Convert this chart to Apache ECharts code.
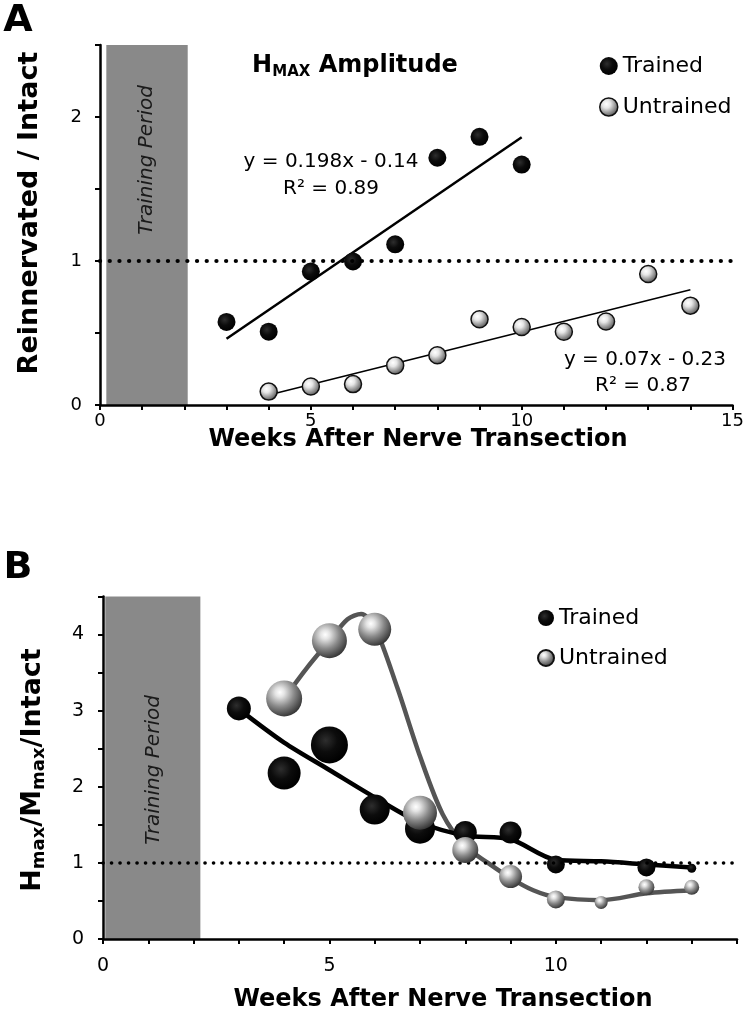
<!DOCTYPE html>
<html>
<head>
<meta charset="utf-8">
<script src="https://cdn.jsdelivr.net/npm/echarts@6/dist/echarts.min.js"></script>
<style>
html,body{margin:0;padding:0;background:#fff;}
#chart{width:747px;height:1017px;}
</style>
</head>
<body>
<div id="chart"></div>
<script>
// ---------- DATA ----------
// Panel A: Hmax amplitude (reinnervated / intact)
const trainedA = [[3,0.577],[4,0.509],[5,0.927],[6,0.997],[7,1.116],[8,1.717],[9,1.862],[10,1.67]];
const untrainedA = [[4,0.093],[5,0.128],[6,0.145],[7,0.275],[8,0.346],[9,0.596],[10,0.542],[11,0.509],[12,0.58],[13,0.91],[14,0.69]];
const trainedFitA = [[3,0.46],[10,1.86]];
const untrainedFitA = [[4,0.07],[14,0.80]];
const trainingBandA = [0.15, 2.08];
const yTicksA = [0, 1, 2];
const xTicksA = [0, 5, 10, 15];

// Panel B: Hmax/Mmax/Intact
const trainedB = [[3,3.03],[4,2.18],[5,2.55],[6,1.70],[7,1.45],[8,1.40],[9,1.40],[10,0.98],[12,0.94],[13,0.93]];
const untrainedB = [[4,3.16],[5,3.92],[6,4.07],[7,1.66],[8,1.17],[9,0.82],[10,0.52],[11,0.48],[12,0.68],[13,0.68]];
const trainedCurveB = [[3,3.02],[4,2.58],[5,2.22],[6,1.86],[7,1.53],[8,1.36],[9,1.31],[10,1.04],[11,1.02],[12,0.98],[13,0.94]];
const untrainedCurveB = [[4,3.16],[4.5,3.56],[5,3.92],[5.4,4.2],[5.7,4.27],[6,4.1],[6.5,3.3],[7,2.4],[7.5,1.64],[8,1.22],[8.5,1.0],[9,0.8],[9.5,0.64],[10,0.55],[11,0.51],[12,0.6],[13,0.64]];
const trainingBandB = [0.05, 2.15];
const yTicksB = [0, 1, 2, 3, 4];
const xTicksB = [0, 5, 10];
const referenceLevel = 1;

// ---------- STYLE ----------
const trainedSizeB = [24,33,37,30,30,23,22,18,18,9];
const untrainedSizeB = [36,35,33,34,26,23,18,13,16,15];
const FONT = 'DejaVu Sans';

const blackBall = {type:'radial', x:0.4, y:0.38, r:0.62, colorStops:[{offset:0,color:'#2e2e2e'},{offset:0.5,color:'#0c0c0c'},{offset:1,color:'#000'}]};
const whiteBallA = {type:'radial', x:0.38, y:0.35, r:0.7, colorStops:[{offset:0,color:'#ffffff'},{offset:0.3,color:'#e6e6e6'},{offset:0.75,color:'#808080'},{offset:1,color:'#4a4a4a'}]};
const whiteBallB = {type:'radial', x:0.38, y:0.33, r:0.72, colorStops:[{offset:0,color:'#ffffff'},{offset:0.18,color:'#e4e4e4'},{offset:0.55,color:'#8a8a8a'},{offset:1,color:'#2e2e2e'}]};

const chart = echarts.init(document.getElementById('chart'), null, {renderer:'canvas'});

function axisCommon(extra){
  return Object.assign({
    type:'value',
    axisLine:{show:true, onZero:false, lineStyle:{color:'#000', width:2.5}},
    axisTick:{show:true, inside:false, length:5, lineStyle:{color:'#000', width:2}},
    splitLine:{show:false},
  }, extra);
}

function txt(x, y, style, rotation){
  const o = {type:'text', x:x, y:y, z:100, zlevel:0, silent:true, style:Object.assign({fill:'#000', align:'center', verticalAlign:'middle'}, style)};
  if (rotation) o.rotation = rotation;
  return o;
}

const option = {
  animation:false,
  backgroundColor:'#fff',
  grid:[
    {left:100, right:14, top:45, bottom:612},
    {left:103, right:10, top:596.5, bottom:78}
  ],
  xAxis:[
    axisCommon({gridIndex:0, min:0, max:15, interval:1,
      axisLabel:{margin:7, fontFamily:FONT, fontSize:18, color:'#000',
        formatter:v=> xTicksA.includes(v) ? String(v) : ''}}),
    axisCommon({gridIndex:1, min:0, max:14, interval:1,
      axisLabel:{margin:18, fontFamily:FONT, fontSize:19, color:'#000',
        formatter:v=> xTicksB.includes(v) ? String(v) : ''}})
  ],
  yAxis:[
    axisCommon({gridIndex:0, min:0, max:2.5, interval:0.5,
      axisLabel:{margin:18, fontFamily:FONT, fontSize:18, color:'#000',
        formatter:v=> yTicksA.includes(v) ? String(v) : ''}}),
    axisCommon({gridIndex:1, min:0, max:4.5, interval:0.5,
      axisLabel:{margin:19, fontFamily:FONT, fontSize:19, color:'#000',
        formatter:v=> yTicksB.includes(v) ? String(v) : ''}})
  ],
  legend:[
    {left:594, top:50, orient:'vertical', itemGap:19, itemWidth:18, itemHeight:18, icon:'circle',
     selectedMode:false,
     textStyle:{fontFamily:FONT, fontSize:22, color:'#000'},
     data:[{name:'Trained', itemStyle:{color:blackBall}},
           {name:'Untrained', itemStyle:{color:whiteBallA, borderColor:'#111', borderWidth:1.5}}]},
    {left:532, top:602, orient:'vertical', itemGap:18, itemWidth:16, itemHeight:16, icon:'circle',
     selectedMode:false,
     textStyle:{fontFamily:FONT, fontSize:22, color:'#000'},
     data:[{name:'Trained', itemStyle:{color:blackBall}},
           {name:'Untrained', itemStyle:{color:whiteBallB}}]}
  ],
  series:[
    // ---- Panel A ----
    {type:'line', name:'Trained fit', xAxisIndex:0, yAxisIndex:0, data:trainedFitA, symbol:'none', z:2,
     lineStyle:{color:'#000', width:2.5}, silent:true,
     markArea:{silent:true, itemStyle:{color:'#898989'}, z:0,
       data:[[{xAxis:trainingBandA[0], yAxis:0},{xAxis:trainingBandA[1], yAxis:2.5}]]},
     markLine:{silent:true, symbol:'none', label:{show:false},
       lineStyle:{color:'#000', width:4.2, type:[0.1,9.6], cap:'round'},
       data:[{yAxis:referenceLevel}]}},
    {type:'line', name:'Untrained fit', xAxisIndex:0, yAxisIndex:0, data:untrainedFitA, symbol:'none', z:2,
     lineStyle:{color:'#000', width:1.5}, silent:true},
    {type:'scatter', name:'Trained', xAxisIndex:0, yAxisIndex:0, data:trainedA, symbolSize:18, z:4,
     itemStyle:{color:blackBall, opacity:1}},
    {type:'scatter', name:'Untrained', xAxisIndex:0, yAxisIndex:0, data:untrainedA, symbolSize:17, z:4,
     itemStyle:{color:whiteBallA, borderColor:'#111', borderWidth:1.5, opacity:1}},
    // ---- Panel B ----
    {type:'line', name:'Untrained curve', xAxisIndex:1, yAxisIndex:1, data:untrainedCurveB, symbol:'none', smooth:0.3, z:2,
     lineStyle:{color:'#555', width:4.5}, silent:true,
     markArea:{silent:true, itemStyle:{color:'#898989'}, z:0,
       data:[[{xAxis:trainingBandB[0], yAxis:0},{xAxis:trainingBandB[1], yAxis:4.5}]]},
     markLine:{silent:true, symbol:'none', label:{show:false},
       lineStyle:{color:'#000', width:3.6, type:[0.1,8.4], cap:'round'},
       data:[{yAxis:referenceLevel}]}},
    {type:'line', name:'Trained curve', xAxisIndex:1, yAxisIndex:1, data:trainedCurveB, symbol:'none', smooth:0.3, z:3,
     lineStyle:{color:'#000', width:4.5}, silent:true},
    {type:'scatter', name:'Trained', xAxisIndex:1, yAxisIndex:1, data:trainedB, z:4,
     symbolSize:(v,p)=>trainedSizeB[p.dataIndex],
     itemStyle:{color:blackBall, opacity:1}},
    {type:'scatter', name:'Untrained', xAxisIndex:1, yAxisIndex:1, data:untrainedB, z:5,
     symbolSize:(v,p)=>untrainedSizeB[p.dataIndex],
     itemStyle:{color:whiteBallB, opacity:1}}
  ],
  graphic:[
    txt(18, 21, {text:'A', fontFamily:FONT, fontWeight:'bold', fontSize:38}),
    txt(18, 568, {text:'B', fontFamily:FONT, fontWeight:'bold', fontSize:38}),
    // axis titles
    txt(30, 213, {text:'Reinnervated / Intact', fontFamily:FONT, fontWeight:'bold', fontSize:27}, Math.PI/2),
    txt(418, 440, {text:'Weeks After Nerve Transection', fontFamily:FONT, fontWeight:'bold', fontSize:24}),
    txt(443, 1000, {text:'Weeks After Nerve Transection', fontFamily:FONT, fontWeight:'bold', fontSize:24}),
    txt(33, 770, {text:'{h|H}{s|max}{h|/M}{s|max}{h|/Intact}',
      rich:{h:{fontFamily:FONT, fontWeight:'bold', fontSize:27, fill:'#000', lineHeight:30},
            s:{fontFamily:FONT, fontWeight:'bold', fontSize:18, fill:'#000', lineHeight:18, verticalAlign:'bottom'}}}, Math.PI/2),
    // Training period labels
    txt(147, 160, {text:'Training Period', fontFamily:FONT, fontStyle:'italic', fontSize:20, fill:'#1a1a1a'}, Math.PI/2),
    txt(154, 770, {text:'Training Period', fontFamily:FONT, fontStyle:'italic', fontSize:20, fill:'#1a1a1a'}, Math.PI/2),
    // Panel A title
    txt(355, 66, {text:'{h|H}{s|MAX}{h| Amplitude}',
      rich:{h:{fontFamily:FONT, fontWeight:'bold', fontSize:24, fill:'#000', lineHeight:28},
            s:{fontFamily:FONT, fontWeight:'bold', fontSize:15, fill:'#000', lineHeight:15, verticalAlign:'bottom'}}}),
    // regression equations
    txt(331, 162, {text:'y = 0.198x - 0.14', fontFamily:FONT, fontSize:20}),
    txt(331, 189, {text:'R² = 0.89', fontFamily:FONT, fontSize:20}),
    txt(645, 360, {text:'y = 0.07x - 0.23', fontFamily:FONT, fontSize:20}),
    txt(643, 386, {text:'R² = 0.87', fontFamily:FONT, fontSize:20})
  ]
};
chart.setOption(option);
</script>
</body>
</html>
